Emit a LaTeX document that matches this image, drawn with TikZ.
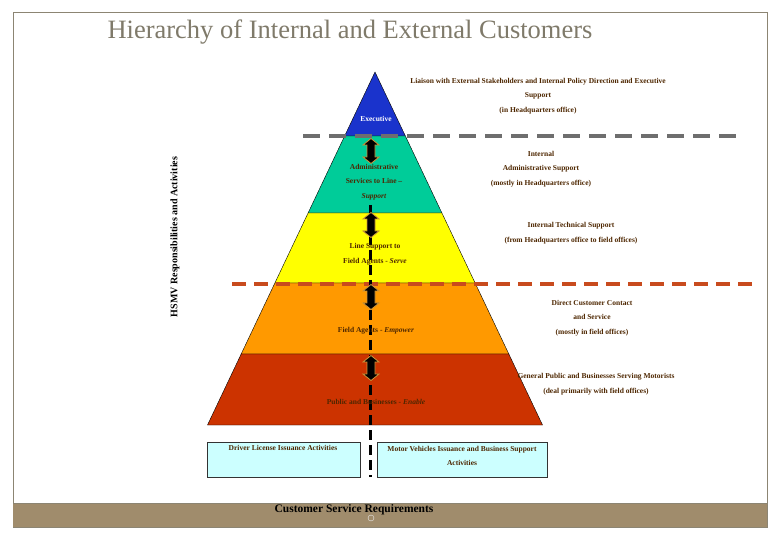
\documentclass[tikz,border=0pt]{standalone}
\usepackage{fontspec}
\setmainfont{Liberation Serif}
\usetikzlibrary{positioning}

\definecolor{execblue}{RGB}{26,51,204}
\definecolor{adminteal}{RGB}{0,204,153}
\definecolor{lineyellow}{RGB}{255,255,0}
\definecolor{fieldorange}{RGB}{255,153,0}
\definecolor{publicred}{RGB}{204,51,0}
\definecolor{notebrown}{RGB}{77,38,0}
\definecolor{taskcyan}{RGB}{204,255,255}
\definecolor{dashgray}{RGB}{110,110,110}
\definecolor{dashred}{RGB}{200,75,30}
\definecolor{framegray}{RGB}{140,133,115}
\definecolor{bandtan}{RGB}{160,140,108}
\definecolor{titlegray}{RGB}{127,122,106}
\definecolor{arrowgold}{RGB}{205,150,60}

\tikzset{
  note/.style={align=center, inner sep=0pt, text=notebrown, font=\bfseries\fontsize{7.5}{14.5}\selectfont},
  updown/.style={fill=black, draw=arrowgold, thick},
  taskbox/.style={draw=black!80, fill=taskcyan}
}

\begin{document}
\begin{tikzpicture}[x=1pt, y=-1pt]

\useasboundingbox (0,0) rectangle (780,540);

\draw[framegray] (13,12) rectangle (767,527);  % slide frame
\fill[bandtan] (13,503) rectangle (767,527);
\draw[framegray] (13,503) -- (767,503);

\node[text=titlegray, font=\fontsize{26.5}{30}\selectfont] (title) at (350,32) {Hierarchy of Internal and External Customers};

% pyramid tiers, top y / bottom y / colour
\foreach \t/\b/\c in {72/136/execblue, 136/213/adminteal, 213/283/lineyellow, 283/354/fieldorange, 354/425/publicred}
    \draw[fill=\c, draw=black] ({375-(\t-72)*0.4745},\t) -- ({375+(\t-72)*0.4745},\t)
        -- ({375+(\b-72)*0.4745},\b) -- ({375-(\b-72)*0.4745},\b) -- cycle;

\draw[dashgray, line width=4.5pt, dash pattern=on 17pt off 9pt] (303,136) -- (740,136);
\draw[dashred, line width=3.5pt, dash pattern=on 14pt off 8pt] (232,284) -- (755,284);

\draw[black, line width=3pt, dash pattern=on 10pt off 5pt] (370,205) -- (370,477);

% up-down arrows between the tiers
\foreach \y in {151,225,297,368}
    \draw[updown] (363,\y-6) -- (371,\y-12.5) -- (379,\y-6) -- (375,\y-6) -- (375,\y+6) -- (379,\y+6)
        -- (371,\y+12.5) -- (363,\y+6) -- (367,\y+6) -- (367,\y-6) -- cycle;

\draw[taskbox] (207,442) rectangle (360,477);
\draw[taskbox] (377,442) rectangle (547,477);

\node[rotate=90, font=\bfseries\fontsize{10}{12}\selectfont] (hsmv) at (175,237) {HSMV Responsibilities and Activities};

% tier labels
\node[note, text=white] (exec) at (376,119) {Executive};
\node[note] (admin) at (374,182) {Administrative\\Services to Line --\\\textit{Support}};
\node[note] (linesup) at (375,254) {Line Support to\\Field Agents - \textit{Serve}};
\node[note] (field) at (376,331) {Field Agents - \textit{Empower}};
\node[note] (public) at (376,402) {Public and Businesses - \textit{Enable}};

% right side notes
\node[note] (liaison) at (538,96) {Liaison with External Stakeholders and Internal Policy Direction and Executive\\Support\\(in Headquarters office)};
\node[note] (internal) at (541,169) {Internal\\Administrative Support\\(mostly in Headquarters office)};
\node[note] (technical) at (571,233) {Internal Technical Support\\(from Headquarters office to field offices)};
\node[note] (direct) at (592,318) {Direct Customer Contact\\and Service\\(mostly in field offices)};
\node[note] (general) at (596,384) {General Public and Businesses Serving Motorists\\(deal primarily with field offices)};

\node[note] (driver) at (283,448) {Driver License Issuance Activities};
\node[note] (motor) at (462,456) {Motor Vehicles Issuance and Business Support\\Activities};

\node[font=\bfseries\fontsize{11.5}{14}\selectfont] (csr) at (354,510) {Customer Service Requirements};
\draw[white!85!gray] (371,518) circle (3);

\end{tikzpicture}
\end{document}
